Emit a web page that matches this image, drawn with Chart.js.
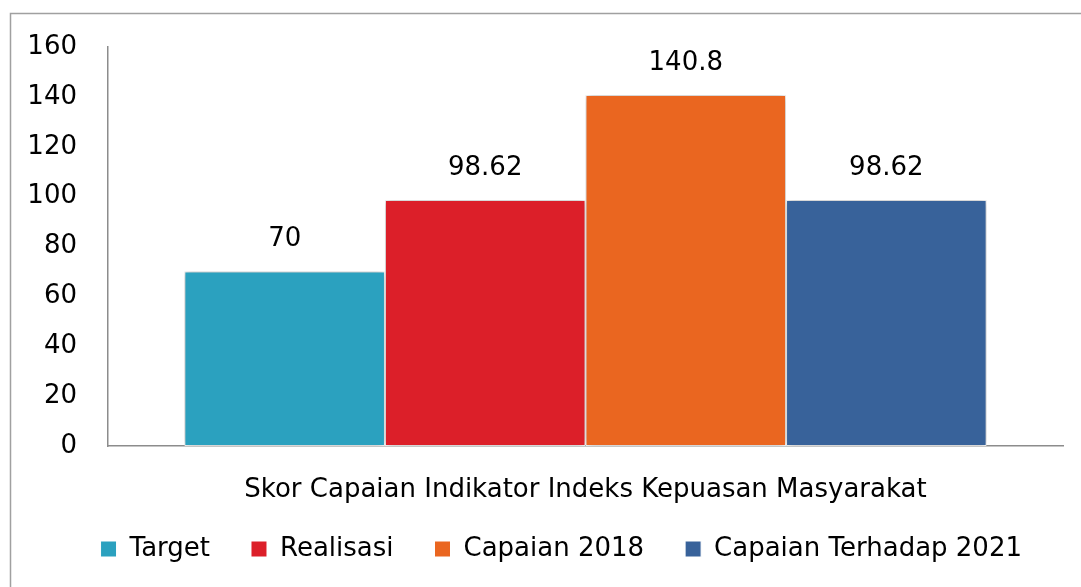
<!DOCTYPE html>
<html>
<head>
<meta charset="utf-8">
<script src="https://cdn.jsdelivr.net/npm/chart.js@4"></script>
<style>
html,body{margin:0;padding:0;background:#fff;}
#wrap{width:1081px;height:587px;position:relative;}
</style>
</head>
<body>
<div id="wrap"><canvas id="c" width="1081" height="587"></canvas></div>
<script>
const categories = ["Skor Capaian Indikator Indeks Kepuasan Masyarakat"];
const seriesNames = ["Target", "Realisasi", "Capaian 2018", "Capaian Terhadap 2021"];
const targetValues = [70];
const realisasiValues = [98.62];
const capaian2018Values = [140.8];
const capaian2021Values = [98.62];
const valueLabels = ["70", "98.62", "140.8", "98.62"];
const yTicks = [0, 20, 40, 60, 80, 100, 120, 140, 160];

const colors = ["#2BA1BF", "#DC1F29", "#EA6620", "#38629A"];
const FONT = "DejaVu Sans";

const frame = {
  id: 'frame',
  beforeDraw(chart) {
    const ctx = chart.ctx;
    ctx.save();
    ctx.fillStyle = '#fff';
    ctx.fillRect(0, 0, chart.width, chart.height);
    ctx.strokeStyle = '#A0A0A0';
    ctx.lineWidth = 1.5;
    ctx.beginPath();
    ctx.moveTo(1090, 13.5);
    ctx.lineTo(10.5, 13.5);
    ctx.lineTo(10.5, 600);
    ctx.stroke();
    ctx.restore();
  }
};

const shadow = {
  id: 'shadow',
  beforeDatasetsDraw(chart) {
    const ctx = chart.ctx;
    ctx.save();
    ctx.shadowColor = 'rgba(0,0,0,0.35)';
    ctx.shadowBlur = 8;
  },
  afterDatasetsDraw(chart) {
    chart.ctx.restore();
  }
};

const valueLabelPlugin = {
  id: 'valueLabels',
  afterDatasetsDraw(chart) {
    const ctx = chart.ctx;
    ctx.save();
    ctx.fillStyle = '#000';
    ctx.font = '26px "' + FONT + '"';
    ctx.textAlign = 'center';
    ctx.textBaseline = 'middle';
    chart.data.datasets.forEach((ds, i) => {
      const meta = chart.getDatasetMeta(i);
      meta.data.forEach((bar) => {
        ctx.fillText(valueLabels[i], bar.x, bar.y - 32);
      });
    });
    ctx.restore();
  }
};

const seriesData = [targetValues, realisasiValues, capaian2018Values, capaian2021Values];

new Chart(document.getElementById('c'), {
  type: 'bar',
  data: {
    labels: categories,
    datasets: seriesNames.map((n, i) => ({
      label: n,
      data: seriesData[i],
      backgroundColor: colors[i],
      borderColor: '#ffffff',
      borderWidth: 1,
      borderSkipped: false,
      categoryPercentage: 0.84,
      barPercentage: 1.0
    }))
  },
  options: {
    responsive: false,
    animation: false,
    devicePixelRatio: 1,
    layout: { padding: { left: 0, right: 18, top: 47, bottom: 15 } },
    plugins: {
      legend: {
        position: 'bottom',
        align: 'end',
        labels: {
          boxWidth: 16,
          boxHeight: 16,
          padding: 41,
          color: '#000',
          font: { family: FONT, size: 26 }
        }
      },
      tooltip: { enabled: false }
    },
    scales: {
      x: {
        grid: { display: false, drawTicks: false },
        border: { display: true, color: '#8C8C8C', width: 1.5 },
        ticks: { display: false },
        title: {
          display: true,
          text: categories[0],
          color: '#000',
          font: { family: FONT, size: 26, lineHeight: 0.385 },
          padding: 0
        },
        afterFit(scale) { scale.height = 49; }
      },
      y: {
        min: 0,
        max: 160,
        afterBuildTicks(scale) { scale.ticks = yTicks.map(v => ({ value: v })); },
        grid: { display: false, drawTicks: false },
        border: { display: true, color: '#8C8C8C', width: 1.5 },
        ticks: { color: '#000', font: { family: FONT, size: 26 }, padding: 31 },
        afterFit(scale) { scale.width = 108; }
      }
    }
  },
  plugins: [frame, shadow, valueLabelPlugin]
});
</script>
</body>
</html>
